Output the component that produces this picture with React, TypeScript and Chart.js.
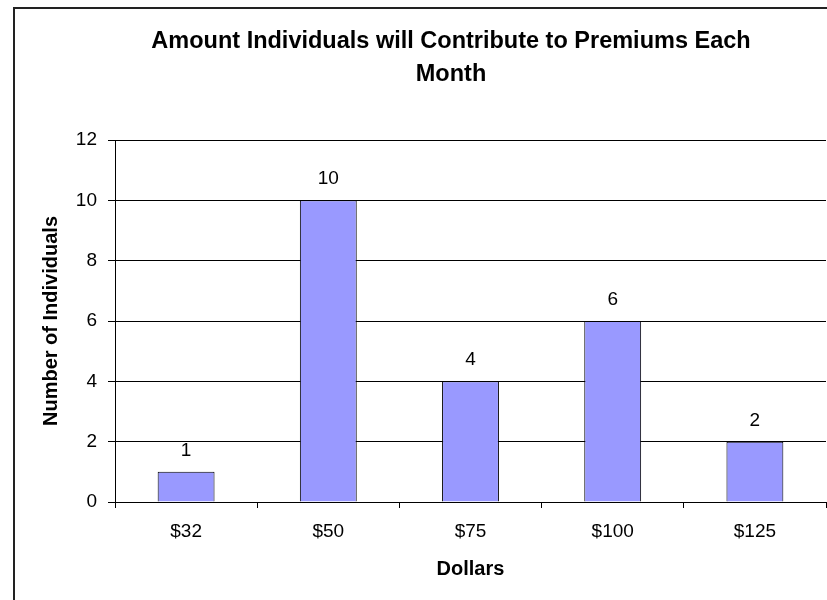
import React, { useEffect, useRef } from "react";
import { Chart, registerables } from "chart.js";

Chart.register(...registerables);

const TITLE_LINES = ["Amount Individuals will Contribute to Premiums Each", "Month"];
const CATEGORIES = ["$32", "$50", "$75", "$100", "$125"];
const COUNTS = [1, 10, 4, 6, 2];
const Y_TICKS = [0, 2, 4, 6, 8, 10, 12];
const X_TITLE = "Dollars";
const Y_TITLE = "Number of Individuals";

const FONT = "'Liberation Sans', Arial, Helvetica, sans-serif";
const BAR_FILL = "#9999FF";

export default function App() {
  const ref = useRef<HTMLCanvasElement>(null);

  useEffect(() => {
    if (!ref.current) return;

    const framePlugin = {
      id: "outerFrame",
      beforeDraw(chart: any) {
        const { ctx, width, height } = chart;
        ctx.save();
        ctx.fillStyle = "#ffffff";
        ctx.fillRect(0, 0, width, height);
        ctx.strokeStyle = "#222222";
        ctx.lineWidth = 2;
        ctx.beginPath();
        ctx.moveTo(14, height + 5);
        ctx.lineTo(14, 8);
        ctx.lineTo(width + 5, 8);
        ctx.stroke();
        ctx.restore();
      },
    };

    const titlePlugin = {
      id: "chartTitleLines",
      afterDraw(chart: any) {
        const { ctx } = chart;
        ctx.save();
        ctx.fillStyle = "#000";
        ctx.font = `bold 23.5px ${FONT}`;
        ctx.textAlign = "center";
        ctx.textBaseline = "middle";
        TITLE_LINES.forEach((line, i) => {
          ctx.fillText(line, 451, 42 + i * 33);
        });
        ctx.restore();
      },
    };

    const valueLabels = {
      id: "valueLabels",
      afterDatasetsDraw(chart: any) {
        const { ctx } = chart;
        const meta = chart.getDatasetMeta(0);
        ctx.save();
        ctx.fillStyle = "#000";
        ctx.font = `19px ${FONT}`;
        ctx.textAlign = "center";
        ctx.textBaseline = "alphabetic";
        meta.data.forEach((bar: any, i: number) => {
          ctx.fillText(String(COUNTS[i]), bar.x, bar.y - 16);
        });
        ctx.restore();
      },
    };

    const chart = new Chart(ref.current, {
      type: "bar",
      data: {
        labels: CATEGORIES,
        datasets: [
          {
            data: COUNTS,
            backgroundColor: BAR_FILL,
            borderColor: "#000",
            borderWidth: 1,
            categoryPercentage: 1,
            barPercentage: 0.4,
          },
        ],
      },
      options: {
        animation: false,
        responsive: false,
        devicePixelRatio: 1,
        layout: { padding: { top: 140, left: 14, right: 1, bottom: 0 } },
        plugins: {
          legend: { display: false },
          tooltip: { enabled: false },
          title: { display: false },
        },
        scales: {
          x: {
            afterFit(scale: any) {
              scale.height = 98;
            },
            grid: {
              display: true,
              drawOnChartArea: false,
              drawTicks: true,
              tickLength: 6,
              color: "#000",
              lineWidth: 1,
              offset: true,
            },
            border: { display: true, color: "#000", width: 1 },
            ticks: {
              color: "#000",
              padding: 12,
              font: { family: FONT, size: 19 },
              maxRotation: 0,
            },
            title: {
              display: true,
              text: X_TITLE,
              color: "#000",
              font: { family: FONT, size: 20, weight: "bold" },
              padding: { top: 0, bottom: 19 },
            },
          },
          y: {
            min: Y_TICKS[0],
            max: Y_TICKS[Y_TICKS.length - 1],
            afterFit(scale: any) {
              scale.width = 101;
            },
            afterBuildTicks(scale: any) {
              scale.ticks = Y_TICKS.map((v) => ({ value: v }));
            },
            grid: {
              color: "#000",
              lineWidth: 1,
              drawTicks: true,
              tickLength: 7,
            },
            border: { display: true, color: "#000", width: 1 },
            ticks: {
              color: "#000",
              padding: 11,
              font: { family: FONT, size: 19 },
            },
            title: {
              display: true,
              text: Y_TITLE,
              color: "#000",
              font: { family: FONT, size: 20, weight: "bold" },
              padding: { top: 25, bottom: 0 },
            },
          },
        },
      },
      plugins: [framePlugin, titlePlugin, valueLabels],
    } as any);

    return () => chart.destroy();
  }, []);

  return (
    <div
      style={{
        position: "absolute",
        left: 0,
        top: 0,
        width: 827,
        height: 600,
        background: "#fff",
        overflow: "hidden",
      }}
    >
      <canvas
        ref={ref}
        width={827}
        height={600}
        style={{ display: "block", width: 827, height: 600 }}
      />
    </div>
  );
}
